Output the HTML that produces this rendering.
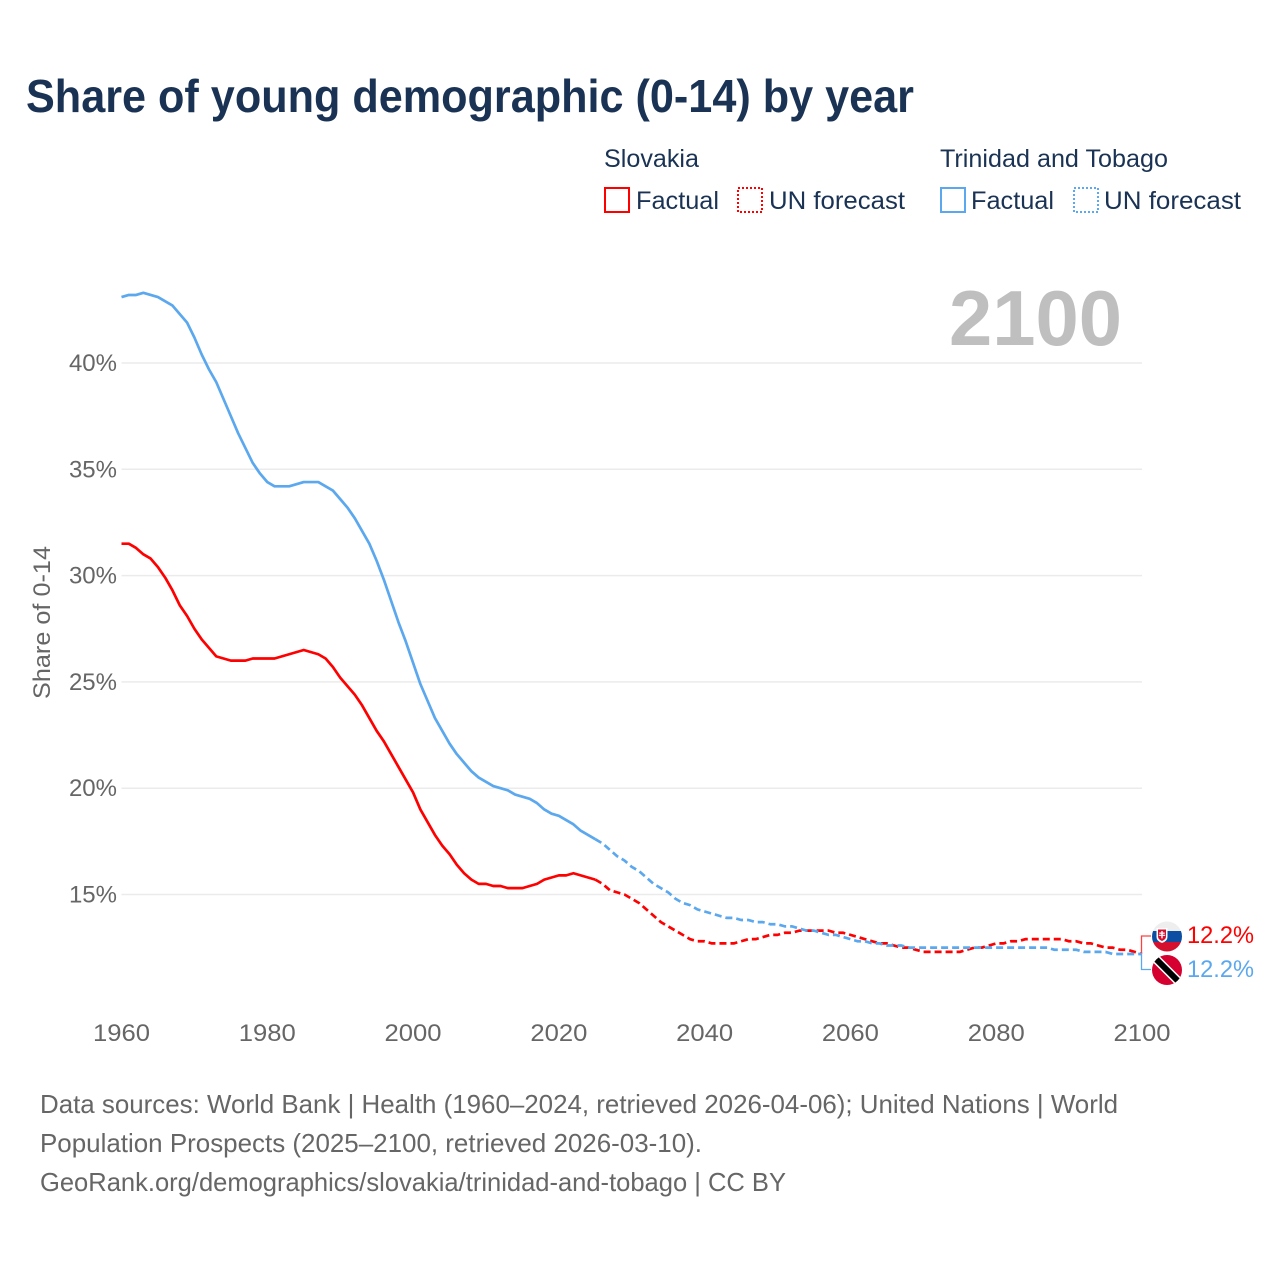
<!DOCTYPE html>
<html lang="en">
<head>
<meta charset="utf-8">
<title>Share of young demographic (0-14) by year</title>
<style>
  html, body { margin: 0; padding: 0; background: #fff; }
  svg { display: block; font-family: "Liberation Sans", sans-serif; }
  .legend-text { font-size: 25px; fill: #1a3354; }
  .tick { font-size: 24px; fill: #666; }
  .foot { font-size: 26px; fill: #666; }
</style>
</head>
<body>
<svg id="chart" xmlns="http://www.w3.org/2000/svg" width="1280" height="1280" viewBox="0 0 1280 1280">
  <defs>
    <clipPath id="clip-sk"><circle cx="1167" cy="936.5" r="15"/></clipPath>
    <clipPath id="clip-tt"><circle cx="1167" cy="970" r="15"/></clipPath>
  </defs>
  <rect x="0" y="0" width="1280" height="1280" fill="#fff"/>
  <text x="26" y="112" font-size="46" font-weight="700" fill="#1a3354" textLength="888" lengthAdjust="spacingAndGlyphs">Share of young demographic (0-14) by year</text>

  <g>
    <text class="legend-text" x="604" y="167" textLength="95" lengthAdjust="spacingAndGlyphs">Slovakia</text>
    <text class="legend-text" x="940" y="167" textLength="228" lengthAdjust="spacingAndGlyphs">Trinidad and Tobago</text>
    <rect x="605" y="188" width="24" height="24" fill="none" stroke="#ff0000" stroke-width="2"/>
    <text class="legend-text" x="636" y="209" textLength="83" lengthAdjust="spacingAndGlyphs">Factual</text>
    <rect x="738" y="188" width="24" height="24" fill="none" stroke="#ff0000" stroke-width="2" stroke-dasharray="2,2"/>
    <text class="legend-text" x="769" y="209" textLength="136" lengthAdjust="spacingAndGlyphs">UN forecast</text>
    <rect x="941" y="188" width="24" height="24" fill="none" stroke="#5ba8ee" stroke-width="2"/>
    <text class="legend-text" x="971" y="209" textLength="83" lengthAdjust="spacingAndGlyphs">Factual</text>
    <rect x="1074" y="188" width="24" height="24" fill="none" stroke="#5ba8ee" stroke-width="2" stroke-dasharray="2,2"/>
    <text class="legend-text" x="1104" y="209" textLength="137" lengthAdjust="spacingAndGlyphs">UN forecast</text>
  </g>

  <g id="grid"></g>
  <g id="yticks"></g>
  <g id="xticks"></g>

  <text x="949" y="345" font-size="78" font-weight="700" fill="#bfbfbf" textLength="173" lengthAdjust="spacingAndGlyphs">2100</text>
  <text transform="translate(50,699) rotate(-90)" x="0" y="0" font-size="24" fill="#666" textLength="153" lengthAdjust="spacingAndGlyphs">Share of 0-14</text>

  <g id="series"></g>

  <g>
    <path d="M1141.500 953V936H1151" fill="none" stroke="#ff4040" stroke-width="1.300"/>
    <path d="M1141.500 953V969.500H1151" fill="none" stroke="#5ba8ee" stroke-width="1.300"/>
  </g>

  <g clip-path="url(#clip-sk)">
    <rect x="1150" y="920" width="34" height="11" fill="#eeeeee"/>
    <rect x="1150" y="931" width="34" height="11" fill="#0b4ea2"/>
    <rect x="1150" y="942" width="34" height="12" fill="#d5102f"/>
    <path d="M1156.500 928h11v9q0 4-5.500 6q-5.500-2-5.500-6z" fill="#fff"/>
    <path d="M1158 929.500h8v7q0 3-4 4.500q-4-1.500-4-4.500z" fill="#d5102f"/>
    <path d="M1161.300 931h1.400v1.500h2v1.200h-2v1h2.500v1.200h-2.500v2.500h-1.400v-2.500h-2.500v-1.200h2.500v-1h-2v-1.200h2z" fill="#fff"/>
  </g>
  <g clip-path="url(#clip-tt)">
    <rect x="1150" y="953" width="34" height="34" fill="#d5002f"/>
    <path d="M1153 956L1181 984" stroke="#fff" stroke-width="9" fill="none"/>
    <path d="M1153 956L1181 984" stroke="#000" stroke-width="6" fill="none"/>
  </g>

  <text x="1187" y="943" font-size="24" fill="#ff0000" textLength="67" lengthAdjust="spacingAndGlyphs">12.2%</text>
  <text x="1187" y="977" font-size="24" fill="#5ba8ee" textLength="67" lengthAdjust="spacingAndGlyphs">12.2%</text>

  <g>
    <text class="foot" x="40" y="1113" textLength="1078" lengthAdjust="spacingAndGlyphs">Data sources: World Bank | Health (1960–2024, retrieved 2026-04-06); United Nations | World</text>
    <text class="foot" x="40" y="1152" textLength="662" lengthAdjust="spacingAndGlyphs">Population Prospects (2025–2100, retrieved 2026-03-10).</text>
    <text class="foot" x="40" y="1191" textLength="746" lengthAdjust="spacingAndGlyphs">GeoRank.org/demographics/slovakia/trinidad-and-tobago | CC BY</text>
  </g>
</svg>

<script>
const xTickYears = [1960, 1980, 2000, 2020, 2040, 2060, 2080, 2100];
const yTickValues = [15, 20, 25, 30, 35, 40];
const factualStartYear = 1960;
const forecastStartYear = 2025;

const slovakiaFactual = [
  31.5,31.5,31.3,31.0,30.8,30.4,29.9,29.3,28.6,28.1,
  27.5,27.0,26.6,26.2,26.1,26.0,26.0,26.0,26.1,26.1,
  26.1,26.1,26.2,26.3,26.4,26.5,26.4,26.3,26.1,25.7,
  25.2,24.8,24.4,23.9,23.3,22.7,22.2,21.6,21.0,20.4,
  19.8,19.0,18.4,17.8,17.3,16.9,16.4,16.0,15.7,15.5,
  15.5,15.4,15.4,15.3,15.3,15.3,15.4,15.5,15.7,15.8,
  15.9,15.9,16.0,15.9,15.8,15.7
];
const slovakiaForecast = [
  15.7,15.5,15.2,15.1,15.0,14.8,14.6,14.3,14.0,13.7,
  13.5,13.3,13.1,12.9,12.8,12.8,12.7,12.7,12.7,12.7,
  12.8,12.9,12.9,13.0,13.1,13.1,13.2,13.2,13.3,13.3,
  13.3,13.3,13.3,13.2,13.2,13.1,13.0,12.9,12.8,12.7,
  12.7,12.6,12.5,12.5,12.4,12.3,12.3,12.3,12.3,12.3,
  12.3,12.4,12.5,12.5,12.6,12.7,12.7,12.8,12.8,12.9,
  12.9,12.9,12.9,12.9,12.9,12.8,12.8,12.7,12.7,12.6,
  12.5,12.5,12.4,12.4,12.3,12.2
];
const trinidadFactual = [
  43.1,43.2,43.2,43.3,43.2,43.1,42.9,42.7,42.3,41.9,
  41.2,40.4,39.7,39.1,38.3,37.5,36.7,36.0,35.3,34.8,
  34.4,34.2,34.2,34.2,34.3,34.4,34.4,34.4,34.2,34.0,
  33.6,33.2,32.7,32.1,31.5,30.7,29.8,28.8,27.8,26.9,
  25.9,24.9,24.1,23.3,22.7,22.1,21.6,21.2,20.8,20.5,
  20.3,20.1,20.0,19.9,19.7,19.6,19.5,19.3,19.0,18.8,
  18.7,18.5,18.3,18.0,17.8,17.6
];
const trinidadForecast = [
  17.6,17.4,17.1,16.8,16.6,16.3,16.1,15.8,15.5,15.3,
  15.1,14.8,14.6,14.5,14.3,14.2,14.1,14.0,13.9,13.9,
  13.8,13.8,13.7,13.7,13.6,13.6,13.5,13.5,13.4,13.3,
  13.3,13.2,13.1,13.1,13.0,12.9,12.8,12.8,12.7,12.7,
  12.6,12.6,12.6,12.5,12.5,12.5,12.5,12.5,12.5,12.5,
  12.5,12.5,12.5,12.5,12.5,12.5,12.5,12.5,12.5,12.5,
  12.5,12.5,12.5,12.4,12.4,12.4,12.4,12.3,12.3,12.3,
  12.3,12.2,12.2,12.2,12.2,12.2
];

const SVG_NS = 'http://www.w3.org/2000/svg';
const red = '#ff0000';
const blue = '#5ba8ee';

function xScale(year) {
  return 121.5 + (year - 1960) * (1142 - 121.5) / 140;
}
function yScale(value) {
  return 894.5 - (value - 15) * 21.26;
}
function pathFor(values, startYear) {
  return values.map(function (v, i) {
    return (i === 0 ? 'M' : 'L') + xScale(startYear + i).toFixed(2) + ' ' + yScale(v).toFixed(2);
  }).join('');
}

const gridGroup = document.getElementById('grid');
const yTickGroup = document.getElementById('yticks');
const xTickGroup = document.getElementById('xticks');
const seriesGroup = document.getElementById('series');

yTickValues.forEach(function (v) {
  const line = document.createElementNS(SVG_NS, 'line');
  
  
  line.setAttribute('x1', xScale(1960));
  line.setAttribute('x2', xScale(2100));
  line.setAttribute('y1', yScale(v));
  line.setAttribute('y2', yScale(v));
  line.setAttribute('stroke', '#ebebeb');
  line.setAttribute('stroke-width', '1.5');
  gridGroup.appendChild(line);

  const label = document.createElementNS(SVG_NS, 'text');
  
  
  label.setAttribute('class', 'tick');
  label.setAttribute('x', 117);
  label.setAttribute('y', yScale(v) + 8);
  label.setAttribute('text-anchor', 'end');
  label.textContent = v + '%';
  yTickGroup.appendChild(label);
});

xTickYears.forEach(function (yr) {
  const label = document.createElementNS(SVG_NS, 'text');
  
  
  label.setAttribute('class', 'tick');
  label.setAttribute('x', xScale(yr));
  label.setAttribute('y', 1041);
  label.setAttribute('text-anchor', 'middle');
  label.setAttribute('font-size', '24');
  label.setAttribute('textLength', '57');
  label.setAttribute('lengthAdjust', 'spacingAndGlyphs');
  label.textContent = yr;
  xTickGroup.appendChild(label);
});

function addLine(values, startYear, color, dashed, name) {
  const p = document.createElementNS(SVG_NS, 'path');
  
  
  p.setAttribute('d', pathFor(values, startYear));
  p.setAttribute('fill', 'none');
  p.setAttribute('stroke', color);
  p.setAttribute('stroke-width', '2.7');
  p.setAttribute('stroke-linejoin', 'round');
  if (dashed) p.setAttribute('stroke-dasharray', '7,4');
  seriesGroup.appendChild(p);
}

addLine(trinidadFactual, factualStartYear, blue, false, 'line-trinidad-factual');
addLine(slovakiaFactual, factualStartYear, red, false, 'line-slovakia-factual');
addLine(slovakiaForecast, forecastStartYear, red, true, 'line-slovakia-forecast');
addLine(trinidadForecast, forecastStartYear, blue, true, 'line-trinidad-forecast');
</script>
</body>
</html>
